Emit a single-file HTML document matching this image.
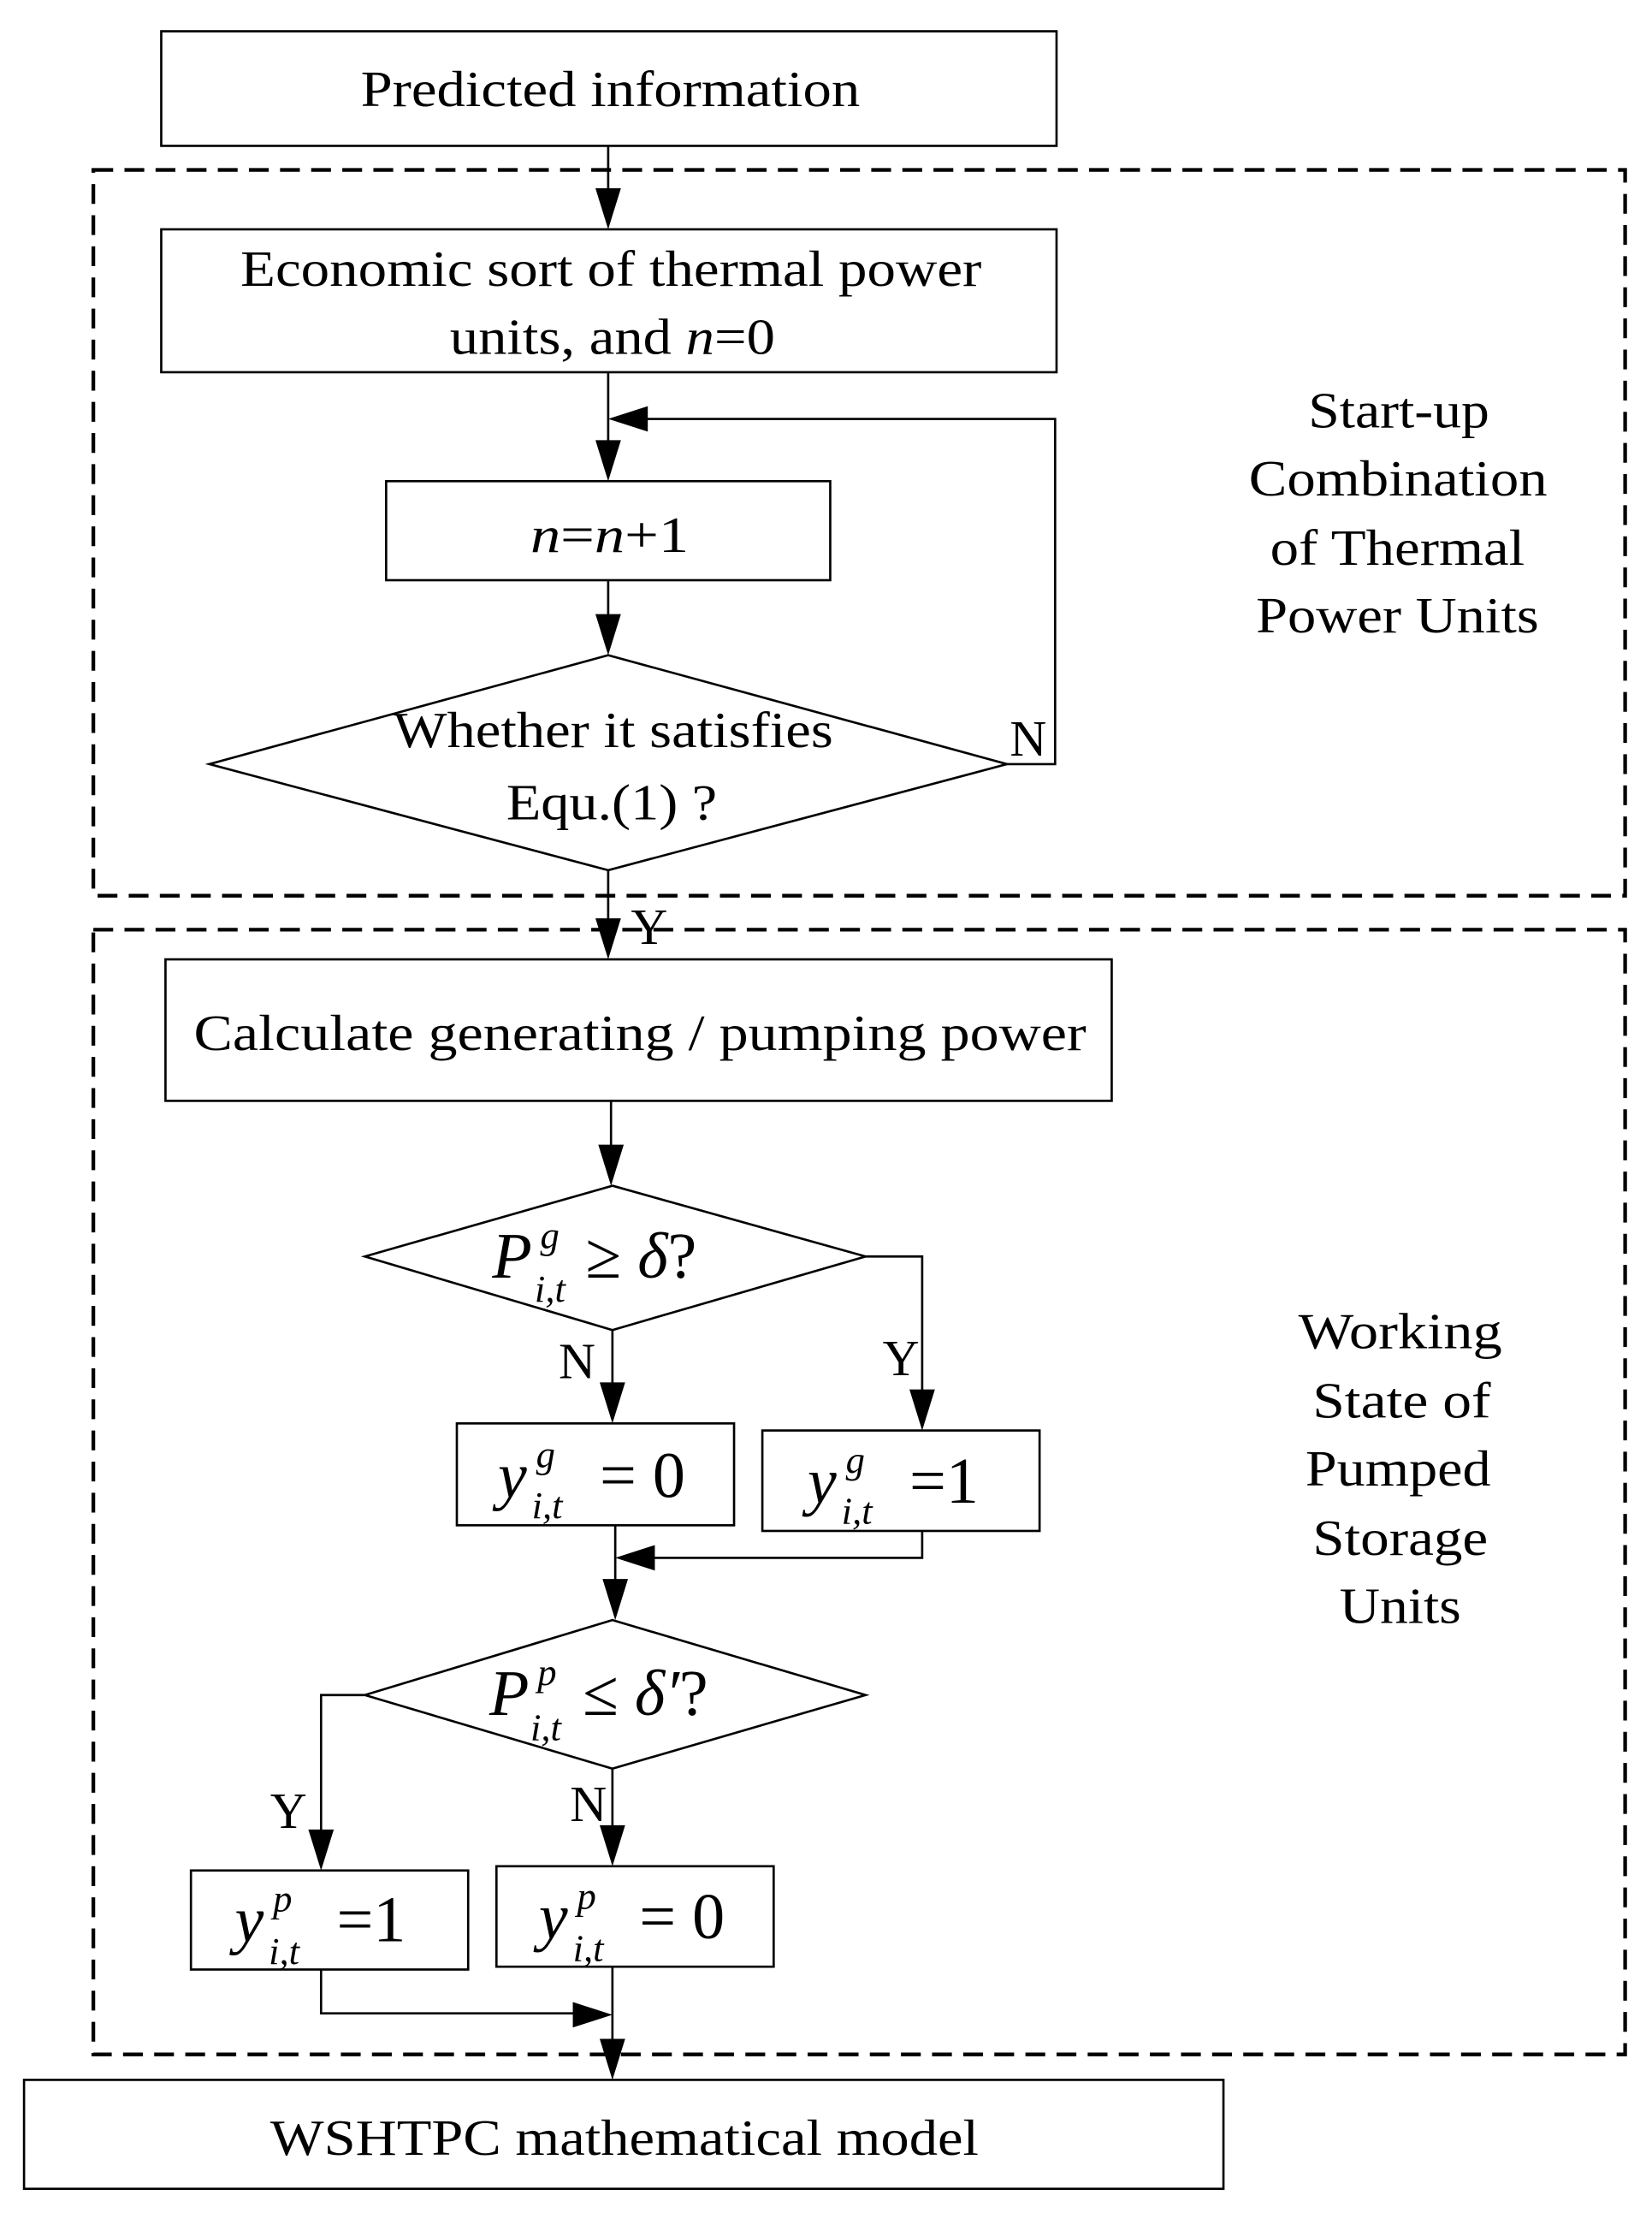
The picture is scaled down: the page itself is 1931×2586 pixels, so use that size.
<!DOCTYPE html>
<html><head><meta charset="utf-8"><style>html,body{margin:0;padding:0;background:#fff}svg{display:block}</style></head>
<body>
<svg width="1931" height="2586" viewBox="0 0 1168 1564" xmlns="http://www.w3.org/2000/svg" font-family="'Liberation Serif', serif" fill="none" stroke="#000" stroke-width="1.6">
<rect x="66" y="120" width="1083" height="513" stroke-width="2.6" stroke-dasharray="14 8"/>
<rect x="66" y="657" width="1083" height="795" stroke-width="2.6" stroke-dasharray="14 8"/>
<rect x="114" y="22" width="633" height="81"/>
<rect x="114" y="162" width="633" height="101"/>
<rect x="273" y="340" width="314" height="70"/>
<polygon points="430,463 712,540 430,615 148,540"/>
<rect x="117" y="678" width="669" height="100"/>
<polygon points="433,838 612,888 433,940 258,888"/>
<rect x="323" y="1006" width="196" height="72"/>
<rect x="539" y="1011" width="196" height="71"/>
<polygon points="433,1145 612,1198 433,1250 258,1198"/>
<rect x="135" y="1322" width="196" height="70"/>
<rect x="351" y="1319" width="196" height="71"/>
<rect x="17" y="1470" width="848" height="77"/>
<path d="M430 103V150M430 263V330M712 540H746V296H440M430 410V453M430 615V668M432 778V828M612 888H652V1000M433 940V996M435 1078V1135M652 1082V1101H445M258 1198H227V1312M433 1250V1310M227 1392V1423H423M433 1390V1460"/>
<g fill="#000" stroke="none">
<polygon points="421,133 439,133 430,162"/>
<polygon points="421,311 439,311 430,340"/>
<polygon points="430,296 458,287 458,305"/>
<polygon points="421,434 439,434 430,463"/>
<polygon points="421,649 439,649 430,678"/>
<polygon points="423,809 441,809 432,838"/>
<polygon points="643,982 661,982 652,1011"/>
<polygon points="424,977 442,977 433,1006"/>
<polygon points="435,1101 463,1092 463,1110"/>
<polygon points="426,1116 444,1116 435,1145"/>
<polygon points="218,1293 236,1293 227,1322"/>
<polygon points="424,1290 442,1290 433,1319"/>
<polygon points="433,1424 405,1415 405,1433"/>
<polygon points="424,1441 442,1441 433,1470"/>
</g>
<g fill="#000" stroke="none" font-size="36" lengthAdjust="spacingAndGlyphs">
<text x="255" y="75" textLength="353" lengthAdjust="spacingAndGlyphs">Predicted information</text>
<text x="170" y="202" textLength="524" lengthAdjust="spacingAndGlyphs">Economic sort of thermal power</text>
<text x="318" y="250" textLength="230" lengthAdjust="spacingAndGlyphs">units, and <tspan font-style="italic">n</tspan>=0</text>
<text x="375" y="390" textLength="112" lengthAdjust="spacingAndGlyphs"><tspan font-style="italic">n</tspan>=<tspan font-style="italic">n</tspan>+1</text>
<text x="278" y="528" textLength="311" lengthAdjust="spacingAndGlyphs">Whether it satisfies</text>
<text x="358" y="579" textLength="149" lengthAdjust="spacingAndGlyphs">Equ.(1) ?</text>
<text x="714" y="534">N</text>
<text x="446" y="667">Y</text>
<text x="137" y="742" textLength="631" lengthAdjust="spacingAndGlyphs">Calculate generating / pumping  power</text>
<text x="191" y="1523" textLength="501" lengthAdjust="spacingAndGlyphs">WSHTPC mathematical model</text>
<text x="925" y="302" textLength="128" lengthAdjust="spacingAndGlyphs">Start-up</text>
<text x="883" y="350" textLength="211" lengthAdjust="spacingAndGlyphs">Combination</text>
<text x="898" y="399" textLength="180" lengthAdjust="spacingAndGlyphs">of Thermal</text>
<text x="888" y="447" textLength="200" lengthAdjust="spacingAndGlyphs">Power Units</text>
<text x="918" y="953" textLength="144" lengthAdjust="spacingAndGlyphs">Working</text>
<text x="928" y="1002" textLength="126" lengthAdjust="spacingAndGlyphs">State of</text>
<text x="923" y="1050" textLength="131" lengthAdjust="spacingAndGlyphs">Pumped</text>
<text x="928" y="1099" textLength="124" lengthAdjust="spacingAndGlyphs">Storage</text>
<text x="947" y="1147" textLength="86" lengthAdjust="spacingAndGlyphs">Units</text>
<text x="395" y="974">N</text>
<text x="624" y="972">Y</text>
<text x="191" y="1292">Y</text>
<text x="403" y="1287">N</text>
</g>
<g fill="#000" stroke="none">
<text x="348" y="903" font-size="46" font-style="italic">P</text>
<text x="382" y="882" font-size="27" font-style="italic">g</text>
<text x="378" y="920" font-size="27" font-style="italic">i,t</text>
<text x="414" y="903" font-size="46">≥ <tspan font-style="italic">δ</tspan>?</text>
<text x="346" y="1212" font-size="46" font-style="italic">P</text>
<text x="380" y="1191" font-size="27" font-style="italic">p</text>
<text x="375" y="1230" font-size="27" font-style="italic">i,t</text>
<text x="412" y="1212" font-size="46">≤ <tspan font-style="italic">δ′</tspan>?</text>
<text x="352" y="1058" font-size="46" font-style="italic">y</text>
<text x="379" y="1037" font-size="27" font-style="italic">g</text>
<text x="376" y="1073" font-size="27" font-style="italic">i,t</text>
<text x="424" y="1058" font-size="46">= 0</text>
<text x="571" y="1062" font-size="46" font-style="italic">y</text>
<text x="598" y="1041" font-size="27" font-style="italic">g</text>
<text x="595" y="1077" font-size="27" font-style="italic">i,t</text>
<text x="643" y="1062" font-size="46">=1</text>
<text x="166" y="1372" font-size="46" font-style="italic">y</text>
<text x="193" y="1351" font-size="27" font-style="italic">p</text>
<text x="190" y="1388" font-size="27" font-style="italic">i,t</text>
<text x="238" y="1372" font-size="46">=1</text>
<text x="381" y="1370" font-size="46" font-style="italic">y</text>
<text x="408" y="1349" font-size="27" font-style="italic">p</text>
<text x="405" y="1386" font-size="27" font-style="italic">i,t</text>
<text x="452" y="1370" font-size="46">= 0</text>
</g>
</svg>
</body></html>
